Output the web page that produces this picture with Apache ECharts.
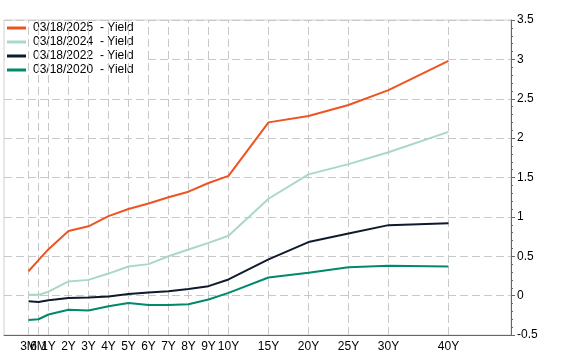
<!DOCTYPE html>
<html><head><meta charset="utf-8">
<script src="https://cdn.jsdelivr.net/npm/echarts@6/dist/echarts.min.js"></script>
<style>html,body{margin:0;padding:0;background:#fff;}#c{width:563px;height:363px;}</style>
</head><body><div id="c"></div>
<script>
var tenors = ['3M','6M','1Y','2Y','3Y','4Y','5Y','6Y','7Y','8Y','9Y','10Y','15Y','20Y','25Y','30Y','40Y'];
// axis scale position of each tenor (the chart's non-linear maturity axis)
var tenorPos = [0,0.5,1,2,3,4,5,6,7,8,9,10,12,14,16,18,21];
var seriesNames = ['03/18/2025','03/18/2024','03/18/2022','03/18/2020'];
var y2025 = [0.31,0.45,0.59,0.82,0.88,1.01,1.10,1.17,1.25,1.32,1.43,1.52,2.20,2.28,2.42,2.61,2.98];
var y2024 = [0.01,0.01,0.05,0.18,0.20,0.28,0.37,0.40,0.50,0.585,0.67,0.76,1.23,1.54,1.67,1.82,2.08];
var y2022 = [-0.07,-0.08,-0.06,-0.03,-0.025,-0.01,0.02,0.04,0.055,0.085,0.12,0.205,0.46,0.68,0.79,0.895,0.92];
var y2020 = [-0.31,-0.30,-0.24,-0.18,-0.19,-0.135,-0.095,-0.12,-0.12,-0.11,-0.05,0.035,0.23,0.29,0.36,0.38,0.37];
var colors = ['#EE5322','#A9D9C3','#0F1B2A','#00896B'];
var allValues = [y2025,y2024,y2022,y2020];

// split tick labels across two overlaid axes so the overlapping short-end labels are all drawn
var posA = tenorPos.filter(function(p, i){ return i !== 1; });
var posB = [tenorPos[1]];

function pairs(v){ return tenorPos.map(function(p,i){ return [p, v[i]]; }); }
function tenorLabel(v){ var i = tenorPos.indexOf(v); return i >= 0 ? tenors[i] : ''; }
var FONT = 'Liberation Sans, Arial, sans-serif';
var chart = echarts.init(document.getElementById('c'), null, {renderer:'canvas'});
var series = seriesNames.map(function(n,i){
  return {
    name: n, type: 'line', data: pairs(allValues[i]), symbol: 'none', showSymbol: false,
    lineStyle: {color: colors[i], width: 2}, itemStyle: {color: colors[i]},
    animation: false, z: 10 - i
  };
});
series.push({
  name: 'grid', type: 'line', data: [], z: 1, silent: true, animation: false,
  markLine: {
    silent: true, symbol: ['none','none'], animation: false,
    label: {show: false},
    lineStyle: {color: '#c8c8c8', type: [8, 4], width: 1},
    data: tenorPos.map(function(p){ return {xAxis: p}; })
  }
});
var labelStyle = {color: '#000', fontSize: 12, fontFamily: FONT, margin: 6,
  showMinLabel: true, showMaxLabel: true, hideOverlap: false, formatter: tenorLabel};
chart.setOption({
  animation: false,
  textStyle: {fontFamily: FONT},
  grid: {left: 4, right: 52, top: 20, bottom: 28, show: true, borderColor: '#d0d0d0', borderWidth: 1, backgroundColor: 'transparent'},
  graphic: [{type: 'rect', left: 5, top: 21, z: 3, silent: true,
    shape: {width: 141, height: 39}, style: {fill: '#fff'}}],
  legend: {
    orient: 'vertical', left: 3, top: 22, itemWidth: 19, itemHeight: 3, itemGap: 2, icon: 'rect',
    padding: [0, 4, 0, 4], z: 5,
    textStyle: {fontFamily: FONT, fontSize: 12, color: '#000', lineHeight: 12,
      rich: {a: {width: 67, fontSize: 12, lineHeight: 12, fontFamily: FONT, color: '#000', padding: [0,0,0,2]},
             b: {fontSize: 12, lineHeight: 12, fontFamily: FONT, color: '#000'}}},
    formatter: function(n){ return '{a|' + n + '}{b|- Yield}'; },
    data: seriesNames
  },
  xAxis: [{
    type: 'value', min: -1.225, max: 24.125,
    axisLine: {show: true, onZero: false, lineStyle: {color: '#666', width: 1}},
    axisTick: {show: false, customValues: posA},
    axisLabel: Object.assign({customValues: posA}, labelStyle),
    splitLine: {show: false}
  }, {
    type: 'value', min: -1.225, max: 24.125, position: 'bottom',
    axisLine: {show: false, onZero: false},
    axisTick: {show: false, customValues: posB},
    axisLabel: Object.assign({customValues: posB}, labelStyle),
    splitLine: {show: false}
  }],
  yAxis: {
    type: 'value', position: 'right', min: -0.5, max: 3.5, interval: 0.5,
    axisLine: {show: true, onZero: false, lineStyle: {color: '#666', width: 1}},
    axisTick: {show: true, inside: false, length: 4, lineStyle: {color: '#666'}},
    minorTick: {show: true, splitNumber: 5, length: 2, lineStyle: {color: '#666'}},
    axisLabel: {color: '#000', fontSize: 12, fontFamily: FONT, margin: 6},
    splitLine: {show: true, lineStyle: {color: '#c8c8c8', type: [8, 4], width: 1}}
  },
  series: series
});
</script></body></html>
